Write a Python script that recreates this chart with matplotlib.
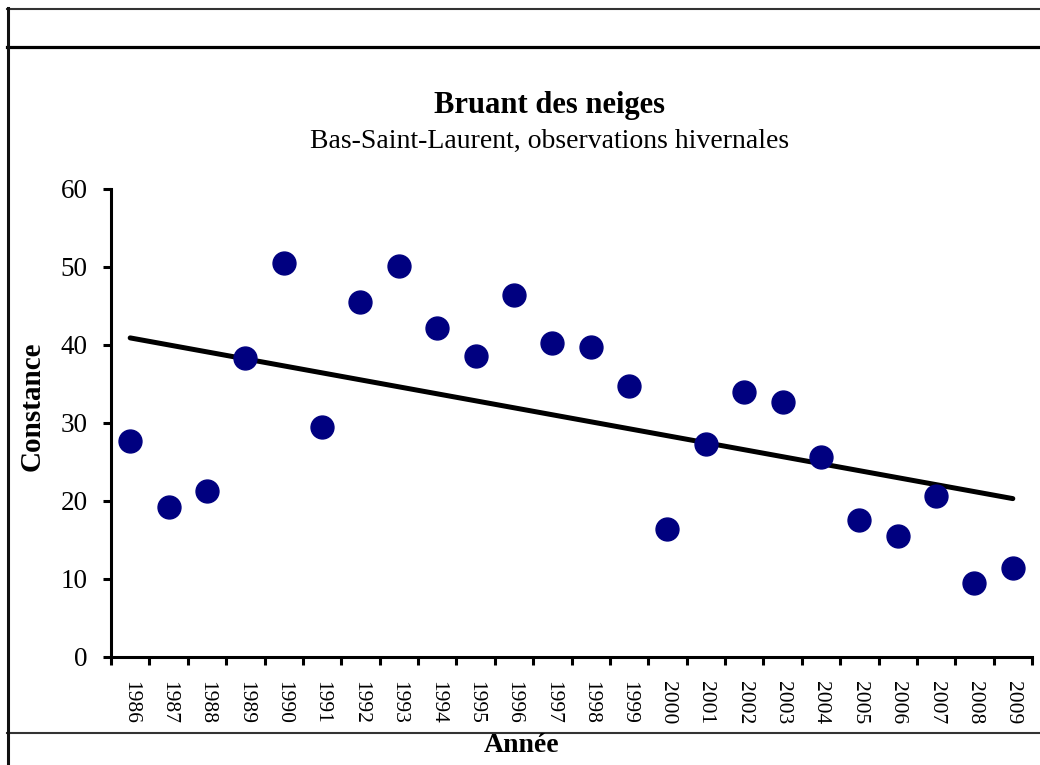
import matplotlib.pyplot as plt
import numpy as np
from matplotlib.lines import Line2D

# Data
years = [str(y) for y in range(1986, 2010)]
constance = [27.7, 19.2, 21.3, 38.3, 50.5, 29.5, 45.5, 50.1, 42.2, 38.6, 46.4, 40.3,
             39.7, 34.7, 16.4, 27.3, 34.0, 32.7, 25.6, 17.6, 15.5, 20.6, 9.5, 11.4]

plt.rcParams['font.family'] = 'Liberation Serif'

W, H = 1040, 765
fig = plt.figure(figsize=(W / 100, H / 100), dpi=100)
ax = fig.add_axes([111 / W, 1 - 657 / H, (1032 - 111) / W, (657 - 189) / H])

x = np.arange(len(years))
ax.plot(x, constance, 'o', color='#000080', markersize=16.5, zorder=3)

# linear trend line
slope, intercept = np.polyfit(x, constance, 1)
ax.plot(x[[0, -1]], slope * x[[0, -1]] + intercept, color='black', lw=3.6,
        solid_capstyle='round', zorder=2)

ax.set_xlim(-0.5, len(years) - 0.5)
ax.set_ylim(0, 60)
ax.set_yticks(range(0, 61, 10))
ax.set_xticks(x)
ax.set_xticklabels(years, rotation=-90, fontsize=15.5, va='top')
ax.set_xticks(np.arange(-0.5, len(years)), minor=True)
ax.tick_params(axis='x', which='major', length=0, pad=17)
ax.tick_params(axis='x', which='minor', length=5.5, width=2.2, direction='out')
ax.tick_params(axis='y', length=5.8, width=2.2, direction='out', labelsize=19.5, pad=11)

for s in ['top', 'right']:
    ax.spines[s].set_visible(False)
for s in ['left', 'bottom']:
    ax.spines[s].set_linewidth(2.2)

# titles and labels
fig.text(550 / W, 1 - 106 / H, 'Bruant des neiges', ha='center', va='center',
         fontsize=22, fontweight='bold')
fig.text(550 / W, 1 - 141 / H, 'Bas-Saint-Laurent, observations hivernales',
         ha='center', va='center', fontsize=20)
fig.text(32 / W, 1 - 406 / H, 'Constance', rotation=90, ha='center', va='center',
         fontsize=21, fontweight='bold')
fig.text(522 / W, 1 - 745 / H, 'Année', ha='center', va='center',
         fontsize=20, fontweight='bold')

# outer frame lines
def hline(y, lw, color):
    fig.add_artist(Line2D([7 / W, 1], [1 - y / H, 1 - y / H], lw=lw, color=color))

hline(8.5, 1.5, '#333333')
hline(47, 2.3, 'black')
hline(733, 1.5, '#333333')
fig.add_artist(Line2D([7.5 / W, 7.5 / W], [0, 1 - 8 / H], lw=2.2, color='#111111'))

fig.savefig('out.png', dpi=100)
